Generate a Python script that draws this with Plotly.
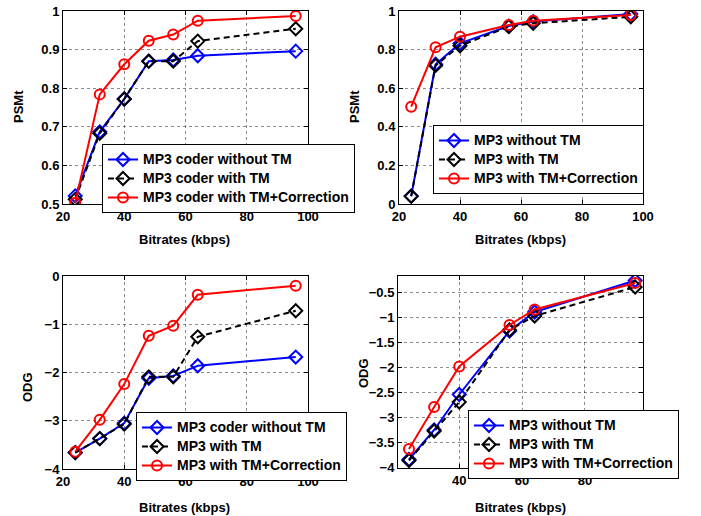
import plotly.graph_objects as go

W, H = 701, 516

# ---------------- data ----------------
x_a = [24, 32, 40, 48, 56, 64, 96]          # panels 1 and 3
x_b = [24, 32, 40, 56, 64, 96]              # panels 2 and 4

p1_blue = [0.521, 0.687, 0.772, 0.870, 0.873, 0.884, 0.896]
p1_black = [0.512, 0.683, 0.772, 0.870, 0.870, 0.922, 0.954]
p1_red = [0.503, 0.784, 0.862, 0.923, 0.939, 0.975, 0.987]

p2_blue = [0.041, 0.724, 0.832, 0.922, 0.945, 0.985]
p2_black = [0.040, 0.718, 0.820, 0.919, 0.936, 0.970]
p2_red = [0.504, 0.812, 0.867, 0.927, 0.950, 0.979]

p3_blue = [-3.66, -3.37, -3.05, -2.12, -2.07, -1.86, -1.68]
p3_black = [-3.66, -3.37, -3.07, -2.09, -2.09, -1.26, -0.72]
p3_red = [-3.64, -2.98, -2.24, -1.24, -1.03, -0.39, -0.20]

p4_blue = [-3.85, -3.26, -2.55, -1.28, -0.90, -0.27]
p4_black = [-3.87, -3.28, -2.70, -1.26, -0.98, -0.40]
p4_red = [-3.64, -2.80, -1.99, -1.16, -0.85, -0.32]

names1 = ["MP3 coder without TM", "MP3 coder with TM", "MP3 coder with TM+Correction"]
names2 = ["MP3 without TM", "MP3 with TM", "MP3 with TM+Correction"]
names3 = ["MP3 coder without TM", "MP3 with TM", "MP3 with TM+Correction"]
names4 = ["MP3 without TM", "MP3 with TM", "MP3 with TM+Correction"]

xt_full = [20, 40, 60, 80, 100]
xt_p4 = [40, 60, 80]
yt_p1 = [0.5, 0.6, 0.7, 0.8, 0.9, 1.0]
yt_p2 = [0, 0.2, 0.4, 0.6, 0.8, 1.0]
yt_p3 = [-4, -3, -2, -1, 0]
yt_p4 = [-4, -3.5, -3, -2.5, -2, -1.5, -1, -0.5]

y_label_top = "PSMt"
y_label_bot = "ODG"
x_label = "Bitrates (kbps)"

# ---------------- style ----------------
FONT = "Liberation Sans, Arial, Helvetica, sans-serif"
styles = [
    dict(color="#0000ff", dash="solid", symbol="diamond-open"),
    dict(color="#000000", dash="6px,4px", symbol="diamond-open"),
    dict(color="#ff0000", dash="solid", symbol="circle-open"),
]

fig = go.Figure()

panels = [
    (x_a, [p1_blue, p1_black, p1_red], names1, "x", "y", "legend"),
    (x_b, [p2_blue, p2_black, p2_red], names2, "x2", "y2", "legend2"),
    (x_a, [p3_blue, p3_black, p3_red], names3, "x3", "y3", "legend3"),
    (x_b, [p4_blue, p4_black, p4_red], names4, "x4", "y4", "legend4"),
]

for xs, series, names, xa, ya, lg in panels:
    for ys, nm, st in zip(series, names, styles):
        fig.add_trace(go.Scatter(
            x=xs, y=ys, mode="lines+markers",
            name="<span style='font-size:14px'>" + nm + "</span>",
            xaxis=xa, yaxis=ya, legend=lg,
            line=dict(color=st["color"], width=2, dash=st["dash"]),
            marker=dict(symbol=st["symbol"], size=10, color=st["color"],
                        line=dict(color=st["color"], width=2)),
        ))

def px_dom_x(a, b):
    return [a / W, b / W]

def px_dom_y(top, bot):
    return [1 - bot / H, 1 - top / H]

axis_common = dict(
    showline=True, linecolor="black", linewidth=1, mirror="ticks",
    ticks="inside", ticklen=4, tickcolor="black", tickwidth=1,
    showgrid=True, gridcolor="rgba(0,0,0,0.45)", griddash="dot", gridwidth=1,
    zeroline=False, automargin=False,
    tickfont=dict(family=FONT, size=13, color="black", weight="bold"),
)

def axis(dom, rng, tv, anchor):
    d = dict(axis_common)
    d.update(domain=dom, range=rng, tickvals=tv, anchor=anchor)
    return d

leg_common = dict(
    bgcolor="white", bordercolor="black", borderwidth=1,
    font=dict(family=FONT, size=11, color="black", weight="bold"),
    xanchor="left", yanchor="top", itemwidth=30, tracegroupgap=0,
)

def leg(xp, yp):
    d = dict(leg_common)
    d.update(x=xp / W, y=1 - yp / H)
    return d

fig.update_layout(
    width=W, height=H,
    margin=dict(l=0, r=0, t=0, b=0, pad=0, autoexpand=False),
    paper_bgcolor="white", plot_bgcolor="white",
    showlegend=True,
    xaxis=axis(px_dom_x(63, 308), [20, 100], xt_full, "y"),
    yaxis=axis(px_dom_y(11, 204), [0.5, 1.0], yt_p1, "x"),
    xaxis2=axis(px_dom_x(399, 643), [20, 100], xt_full, "y2"),
    yaxis2=axis(px_dom_y(11, 204), [0, 1.0], yt_p2, "x2"),
    xaxis3=axis(px_dom_x(63, 308), [20, 100], xt_full, "y3"),
    yaxis3=axis(px_dom_y(276, 469), [-4, 0], yt_p3, "x3"),
    xaxis4=axis(px_dom_x(398, 643), [20.5, 98.5], xt_p4, "y4"),
    yaxis4=axis(px_dom_y(276, 468), [-4.02, -0.18], yt_p4, "x4"),
    legend=leg(102, 144),
    legend2=leg(433, 125),
    legend3=leg(136, 412),
    legend4=leg(468, 410),
)

def label(text, xp, yp, rot=0):
    fig.add_annotation(
        text=text, x=xp / W, y=1 - yp / H, xref="paper", yref="paper",
        showarrow=False, textangle=rot, xanchor="center", yanchor="middle",
        font=dict(family=FONT, size=13, color="black", weight="bold"),
    )

label(y_label_top, 18, 107, -90)
label(y_label_top, 354, 107, -90)
label(y_label_bot, 27, 387, -90)
label(y_label_bot, 363, 373, -90)
label(x_label, 185, 240)
label(x_label, 520, 240)
label(x_label, 185, 507)
label(x_label, 520, 507)

fig.write_html(
    "out.html",
    config={"displayModeBar": False},
    post_script="document.body.style.margin='0';document.body.style.overflow='hidden';",
)
